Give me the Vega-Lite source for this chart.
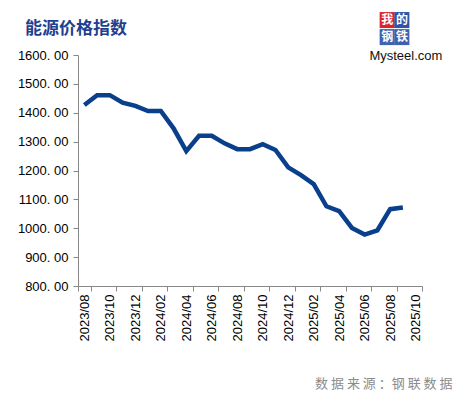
{
  "$schema": "https://vega.github.io/schema/vega-lite/v6.json",
  "width": 344,
  "height": 231,
  "autosize": {"type": "none"},
  "padding": {"left": 78, "top": 55, "right": 36, "bottom": 111},
  "background": "white",
  "config": {"view": {"stroke": null}},
  "title": {
    "text": "能源价格指数",
    "anchor": "start",
    "frame": "group",
    "dx": -53,
    "offset": 12,
    "dy": 38,
    "fontSize": 17,
    "font": "Noto Sans CJK SC",
    "fontWeight": "bold",
    "color": "#1f3f8f"
  },
  "resolve": {"axis": {"x": "independent", "y": "independent"}},
  "data": {
    "values": [
      {"month": "2023/08", "value": 1427},
      {"month": "2023/09", "value": 1461},
      {"month": "2023/10", "value": 1461},
      {"month": "2023/11", "value": 1435},
      {"month": "2023/12", "value": 1424},
      {"month": "2024/01", "value": 1406},
      {"month": "2024/02", "value": 1406},
      {"month": "2024/03", "value": 1346},
      {"month": "2024/04", "value": 1267},
      {"month": "2024/05", "value": 1320},
      {"month": "2024/06", "value": 1320},
      {"month": "2024/07", "value": 1294},
      {"month": "2024/08", "value": 1274},
      {"month": "2024/09", "value": 1274},
      {"month": "2024/10", "value": 1291},
      {"month": "2024/11", "value": 1271},
      {"month": "2024/12", "value": 1211},
      {"month": "2025/01", "value": 1184},
      {"month": "2025/02", "value": 1153},
      {"month": "2025/03", "value": 1076},
      {"month": "2025/04", "value": 1059},
      {"month": "2025/05", "value": 1001},
      {"month": "2025/06", "value": 978},
      {"month": "2025/07", "value": 993},
      {"month": "2025/08", "value": 1066},
      {"month": "2025/09", "value": 1072}
    ]
  },
  "layer": [
    {
      "mark": {"type": "line", "color": "#0a3f8c", "strokeWidth": 4.5},
      "encoding": {
        "x": {
          "field": "month",
          "type": "ordinal",
          "bandPosition": 0.5,
          "scale": {
            "type": "band",
            "paddingInner": 0,
            "paddingOuter": 0,
            "domain": ["2023/08","2023/09","2023/10","2023/11","2023/12","2024/01","2024/02","2024/03","2024/04","2024/05","2024/06","2024/07","2024/08","2024/09","2024/10","2024/11","2024/12","2025/01","2025/02","2025/03","2025/04","2025/05","2025/06","2025/07","2025/08","2025/09","2025/10"]
          },
          "axis": {
            "values": ["2023/08","2023/10","2023/12","2024/02","2024/04","2024/06","2024/08","2024/10","2024/12","2025/02","2025/04","2025/06","2025/08","2025/10"],
            "tickBand": "extent",
            "labelAngle": -90,
            "labelAlign": "right",
            "labelBaseline": "middle",
            "labelPadding": 3,
            "labelFont": "Liberation Sans",
            "labelFontSize": 13,
            "labelColor": "#000000",
            "tickSize": 5,
            "tickColor": "#888888",
            "domainColor": "#888888",
            "grid": false,
            "title": "数 据 来 源 ：钢 联 数 据",
            "titleFont": "Noto Sans CJK SC",
            "titleFontSize": 13,
            "titleFontWeight": "normal",
            "titleColor": "#8c8c8c",
            "titleAnchor": "end",
            "titleAlign": "right",
            "titleBaseline": "middle",
            "titleX": 374,
            "titleY": 97
          }
        },
        "y": {
          "field": "value",
          "type": "quantitative",
          "scale": {"domain": [800, 1600], "nice": false, "zero": false},
          "axis": {
            "values": [800, 900, 1000, 1100, 1200, 1300, 1400, 1500, 1600],
            "labelOverlap": false,
            "labelExpr": "replace(format(datum.value, '.2f'), '.', '. ')",
            "labelFont": "Liberation Sans",
            "labelFontSize": 13,
            "labelColor": "#000000",
            "labelPadding": 5,
            "tickSize": 5,
            "tickColor": "#888888",
            "domainColor": "#888888",
            "grid": false,
            "title": null
          }
        }
      }
    },
    {
      "data": {"values": [{}]},
      "mark": {"type": "rect", "color": "#d9262c", "width": 15, "height": 16, "xOffset": -3, "clip": false},
      "encoding": {"x": {"datum": "2025/08", "axis": null}, "y": {"datum": 1721, "axis": null}}
    },
    {
      "data": {"values": [{}]},
      "mark": {"type": "rect", "color": "#2f55a4", "width": 15, "height": 16, "xOffset": -1, "clip": false},
      "encoding": {"x": {"datum": "2025/09", "axis": null}, "y": {"datum": 1721, "axis": null}}
    },
    {
      "data": {"values": [{}]},
      "mark": {"type": "rect", "color": "#3d63b0", "width": 15, "height": 16, "xOffset": -3, "clip": false},
      "encoding": {"x": {"datum": "2025/08", "axis": null}, "y": {"datum": 1662, "axis": null}}
    },
    {
      "data": {"values": [{}]},
      "mark": {"type": "rect", "color": "#3d63b0", "width": 15, "height": 16, "xOffset": -1, "clip": false},
      "encoding": {"x": {"datum": "2025/09", "axis": null}, "y": {"datum": 1662, "axis": null}}
    },
    {
      "data": {"values": [{}]},
      "mark": {"type": "text", "text": "我", "color": "#ffffff", "font": "Noto Sans CJK SC", "fontWeight": "bold", "fontSize": 12, "dx": -3, "baseline": "middle", "clip": false},
      "encoding": {"x": {"datum": "2025/08", "axis": null}, "y": {"datum": 1721, "axis": null}}
    },
    {
      "data": {"values": [{}]},
      "mark": {"type": "text", "text": "的", "color": "#ffffff", "font": "Noto Sans CJK SC", "fontWeight": "bold", "fontSize": 12, "dx": -1, "baseline": "middle", "clip": false},
      "encoding": {"x": {"datum": "2025/09", "axis": null}, "y": {"datum": 1721, "axis": null}}
    },
    {
      "data": {"values": [{}]},
      "mark": {"type": "text", "text": "钢", "color": "#ffffff", "font": "Noto Sans CJK SC", "fontWeight": "bold", "fontSize": 12, "dx": -3, "baseline": "middle", "clip": false},
      "encoding": {"x": {"datum": "2025/08", "axis": null}, "y": {"datum": 1662, "axis": null}}
    },
    {
      "data": {"values": [{}]},
      "mark": {"type": "text", "text": "铁", "color": "#ffffff", "font": "Noto Sans CJK SC", "fontWeight": "bold", "fontSize": 12, "dx": -1, "baseline": "middle", "clip": false},
      "encoding": {"x": {"datum": "2025/09", "axis": null}, "y": {"datum": 1662, "axis": null}}
    },
    {
      "data": {"values": [{}]},
      "mark": {"type": "text", "text": "Mysteel.com", "color": "#111111", "font": "Liberation Sans", "fontSize": 13, "dx": 3, "baseline": "middle", "clip": false},
      "encoding": {"x": {"datum": "2025/09", "axis": null}, "y": {"datum": 1597, "axis": null}}
    }
  ]
}
